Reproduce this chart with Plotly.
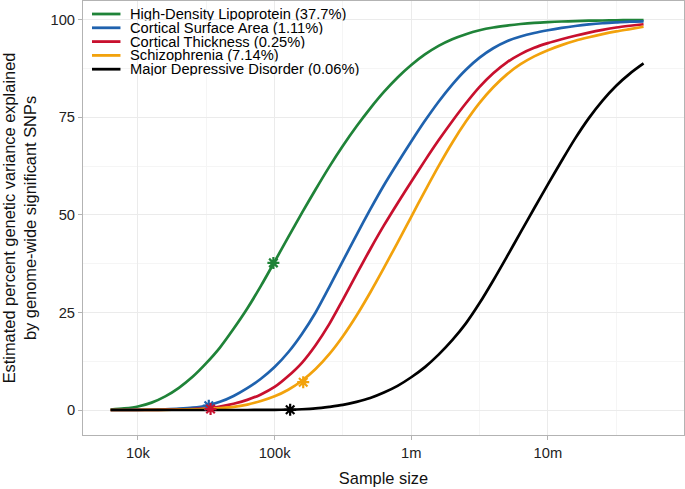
import plotly.graph_objects as go

# ---------------- data ----------------
sample_size = [6310, 7943, 10000, 12589, 15849, 19953, 25119, 31623, 39811, 50119,
               63096, 79433, 100000, 125893, 158489, 199526, 251189, 316228, 398107, 501187,
               630957, 794328, 1000000, 1258925, 1584893, 1995262, 2511886, 3162278, 3981072, 5011872,
               6309573, 7943282, 10000000, 12589254, 15848932, 19952623, 25118864, 31622777, 39810717, 50118723]

hdl = [0.1, 0.4, 0.9, 1.9, 3.5, 5.7, 8.5, 12, 16, 20.8,
       26, 31.8, 38, 44.3, 50.5, 56.5, 62.3, 67.7, 72.7, 77.3,
       81.5, 85.2, 88.4, 91.1, 93.3, 95.0, 96.3, 97.3, 98.0, 98.5,
       98.9, 99.2, 99.4, 99.55, 99.65, 99.75, 99.8, 99.85, 99.9, 99.9]

csa = [0, 0, 0.05, 0.1, 0.2, 0.35, 0.6, 1.1, 2.1, 3.6,
       5.6, 8, 11, 14.8, 19.5, 25, 31.5, 38.2, 44.9, 51.4,
       57.6, 63.3, 68.8, 74.1, 79.0, 83.4, 87.2, 90.3, 92.7, 94.5,
       95.7, 96.6, 97.3, 97.9, 98.4, 98.8, 99.1, 99.3, 99.5, 99.6]

ct = [0, 0, 0.02, 0.05, 0.08, 0.15, 0.25, 0.4, 0.9, 1.6,
      2.6, 4.0, 5.9, 8.7, 12.1, 16.6, 22.0, 28.3, 34.8, 41.2,
      47.3, 53.0, 58.5, 63.9, 69.1, 74.0, 78.6, 82.8, 86.3, 89.1,
      91.2, 92.8, 94.0, 95.0, 95.9, 96.7, 97.4, 98.0, 98.45, 98.85]

scz = [0, 0, 0.01, 0.03, 0.05, 0.1, 0.15, 0.3, 0.5, 0.8,
       1.4, 2.3, 3.5, 5.2, 7.5, 10.5, 14.3, 18.9, 24.2, 30.1,
       36.4, 42.9, 49.5, 56.1, 62.5, 68.5, 73.9, 78.7, 82.7, 86.0,
       88.6, 90.6, 92.2, 93.5, 94.6, 95.5, 96.3, 97.0, 97.6, 98.2]

mdd = [0, 0, 0, 0, 0, 0, 0, 0, 0, 0,
       0.01, 0.02, 0.05, 0.1, 0.2, 0.4, 0.8, 1.3, 2.1, 3.1,
       4.5, 6.2, 8.4, 11, 14.2, 17.9, 22.2, 27.4, 33.2, 39.3,
       45.5, 51.7, 57.8, 63.8, 69.6, 74.8, 79.3, 83.1, 86.2, 88.8]

series_names = ["High-Density Lipoprotein (37.7%)", "Cortical Surface Area (1.11%)",
                "Cortical Thickness (0.25%)", "Schizophrenia (7.14%)",
                "Major Depressive Disorder (0.06%)"]
series_values = [hdl, csa, ct, scz, mdd]
series_colors = ["#1f8338", "#1f62ae", "#c8102e", "#f2a20c", "#000000"]

# current GWAS sample sizes and percent explained (asterisks)
current_n = [98000, 33000, 34000, 162000, 130000]
current_pct = [37.7, 1.11, 0.25, 7.14, 0.06]

x_tick_vals = [10000, 100000, 1000000, 10000000]
x_tick_text = ["10k", "100k", "1m", "10m"]
x_minor_vals = [3162.28, 31622.8, 316228, 3162278, 31622777]
y_tick_vals = [0, 25, 50, 75, 100]
y_minor_vals = [-12.5, 12.5, 37.5, 62.5, 87.5]

FONT = "Liberation Sans, Arial, sans-serif"

fig = go.Figure()
for name, vals, col in zip(series_names, series_values, series_colors):
    fig.add_trace(go.Scatter(x=sample_size, y=vals, mode="lines", name=name,
                             line=dict(color=col, width=2.7, shape="spline", smoothing=0.8),
                             showlegend=False))
for n, p, col, name in zip(current_n, current_pct, series_colors, series_names):
    fig.add_trace(go.Scatter(x=[n], y=[p], mode="markers", name=name,
                             marker=dict(symbol="asterisk-open", size=10, color=col,
                                         line=dict(color=col, width=2.2)),
                             showlegend=False))

# Legend (ggplot-style, inside panel, top-left)
L, R, T, B = 82.5, 684.0, 1.0, 435.0
def px2x(px):
    return (px - L) / (R - L)
def py2y(py):
    return (B - py) / (B - T)

shapes = [dict(type="rect", xref="paper", yref="paper",
               x0=px2x(85.5), x1=px2x(366), y0=py2y(77.5), y1=py2y(1.5),
               fillcolor="white", line=dict(width=0), layer="between")]
annotations = []
for i, (name, col) in enumerate(zip(series_names, series_colors)):
    yc = 14 + 13.8 * i
    shapes.append(dict(type="line", xref="paper", yref="paper",
                       x0=px2x(91.5), x1=px2x(120), y0=py2y(yc), y1=py2y(yc),
                       line=dict(color=col, width=2.8), layer="above"))
    annotations.append(dict(text=name, xref="paper", yref="paper",
                            x=px2x(129), y=py2y(yc), xanchor="left", yanchor="middle",
                            height=13.6, valign="middle", borderpad=0,
                            showarrow=False, font=dict(family=FONT, size=14.7, color="#000")))

fig.update_layout(
    width=685, height=489,
    margin=dict(l=L, r=685 - R, t=T, b=489 - B, pad=0, autoexpand=False),
    paper_bgcolor="white", plot_bgcolor="white",
    font=dict(family=FONT, color="#222"),
    shapes=shapes, annotations=annotations,
    showlegend=False,
)
fig.update_xaxes(
    type="log", range=[3.598, 7.996], automargin=False,
    tickmode="array", tickvals=x_tick_vals, ticktext=x_tick_text,
    tickfont=dict(size=14.7, color="#222"),
    ticks="outside", ticklen=4, tickcolor="#b3b3b3", tickwidth=1,
    showgrid=True, gridcolor="#ebebeb", gridwidth=1,
    minor=dict(tickmode="array", tickvals=x_minor_vals, showgrid=True,
               gridcolor="#f5f5f5", gridwidth=0.8, ticklen=0),
    showline=True, linecolor="#b3b3b3", linewidth=1, mirror=True,
    zeroline=False,
    title=dict(text="Sample size", font=dict(size=16.4, color="#111"), standoff=12),
)
fig.update_yaxes(
    range=[-6.4, 104.8], automargin=False,
    tickmode="array", tickvals=y_tick_vals,
    tickfont=dict(size=14.7, color="#222"),
    ticks="outside", ticklen=4, tickcolor="#b3b3b3", tickwidth=1,
    showgrid=True, gridcolor="#ebebeb", gridwidth=1,
    minor=dict(tickmode="array", tickvals=y_minor_vals, showgrid=True,
               gridcolor="#f5f5f5", gridwidth=0.8, ticklen=0),
    showline=True, linecolor="#b3b3b3", linewidth=1, mirror=True,
    zeroline=False,
    title=dict(text="Estimated percent genetic variance explained<br>by genome-wide significant SNPs",
               font=dict(size=16.4, color="#111"), standoff=18),
)

fig.write_html("out.html", config={"displayModeBar": False},
               post_script="document.body.style.margin='0';document.body.style.overflow='hidden';")
